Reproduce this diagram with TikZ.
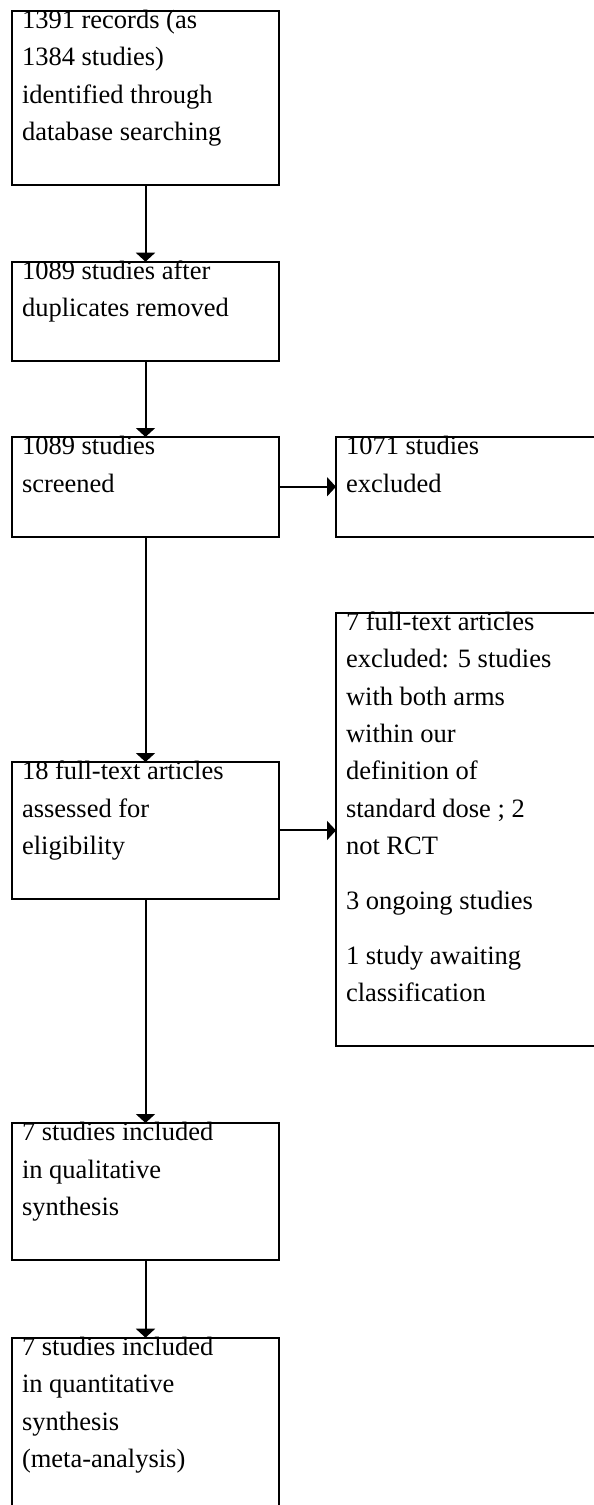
\documentclass[tikz,border=0pt]{standalone}
\usepackage{fontspec}
\setmainfont{Liberation Serif}
\usetikzlibrary{arrows.meta}
\definecolor{figline}{RGB}{0,0,0}
\newcommand{\bxtext}[1]{\parbox[t]{247pt}{\raggedright #1\rule[-44.5pt]{0pt}{44.5pt}}}
\tikzset{
  bx/.style  ={draw=figline, line width=2pt, anchor=north west, inner xsep=10pt, inner ysep=0pt,
               outer sep=0pt, text height=17.6pt, font=\fontsize{26.5}{37.4}\selectfont},
  ptr/.style ={draw=figline, line width=2pt, -{Triangle[length=9pt,width=19pt]}},
}
\begin{document}
\begin{tikzpicture}[x=1pt,y=-1pt]
  \clip (0,0) rectangle (594,1505);
  % left column
  \node[bx] (ident)  at (12,10.7)   {\bxtext{1391 records (as\\1384 studies)\\identified through\\database searching}};
  \node[bx] (dedup)  at (12,261.7)  {\bxtext{1089 studies after\\duplicates removed}};
  \node[bx] (screen) at (12,437)    {\bxtext{1089 studies\\screened}};
  \node[bx] (full)   at (12,762)    {\bxtext{18 full-text articles\\assessed for\\eligibility}};
  \node[bx] (qual)   at (12,1123)   {\bxtext{7 studies included\\in qualitative\\synthesis}};
  \node[bx] (quant)  at (12,1337.7) {\bxtext{7 studies included\\in quantitative\\synthesis\\(meta-analysis)}};
  % right column
  \node[bx] (excl)   at (336,437)   {\bxtext{1071 studies\\excluded}};
  \node[bx] (fexcl)  at (336,612.7) {\bxtext{7 full-text articles\\excluded: 5 studies\\with both arms\\within our\\definition of\\standard dose ; 2\\not RCT\\[17.5pt]3 ongoing studies\\[17.5pt]1 study awaiting\\classification}};
  % arrows
  \draw[ptr] (ident.south)  -- (dedup.north);
  \draw[ptr] (dedup.south)  -- (screen.north);
  \draw[ptr] (screen.south) -- (full.north);
  \draw[ptr] (full.south)   -- (qual.north);
  \draw[ptr] (qual.south)   -- (quant.north);
  \draw[ptr] (screen.east)  -- (excl.west);
  \draw[ptr] (full.east)    -- (full.east -| fexcl.west);
\end{tikzpicture}
\end{document}
